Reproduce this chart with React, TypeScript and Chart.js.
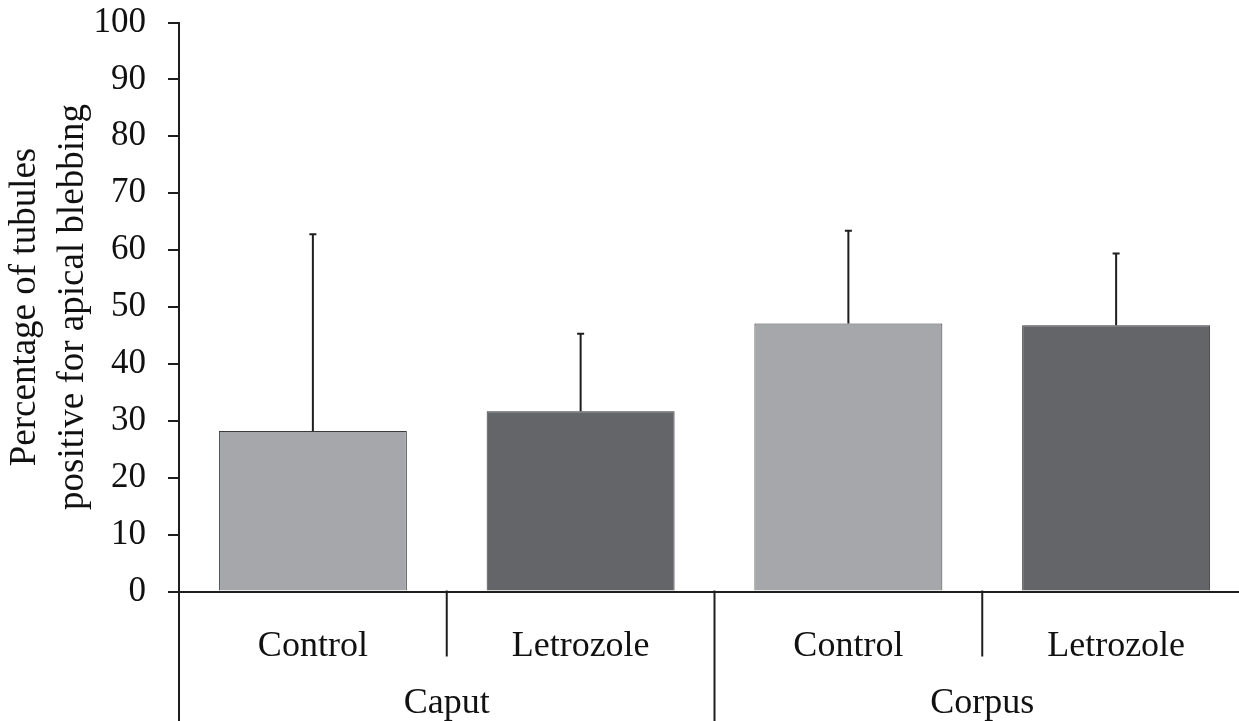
import { useEffect, useRef } from "react";
import { Chart, ChartConfiguration, Plugin, registerables } from "chart.js";

Chart.register(...registerables);

// values
const subgroups = ["Control", "Letrozole", "Control", "Letrozole"];
const groups = ["Caput", "Corpus"];
const means = [28.2, 31.7, 47.1, 46.8];
const sds = [34.6, 13.6, 16.3, 12.6];
const barColors = ["#a6a7ab", "#646568", "#a6a7ab", "#646568"];
const yTitle = ["Percentage of tubules", "positive for apical blebbing"];

const INK = "#1e1e1e";
const FONT = "'Liberation Serif', 'Times New Roman', serif";

const errorBars: Plugin<"bar"> = {
  id: "errorBars",
  afterDatasetsDraw(chart) {
    const { ctx } = chart;
    const y = chart.scales.y;
    const meta = chart.getDatasetMeta(0);
    ctx.save();
    ctx.strokeStyle = INK;
    ctx.lineWidth = 2;
    meta.data.forEach((bar: any, i) => {
      const top = y.getPixelForValue(means[i] + sds[i]);
      ctx.beginPath();
      ctx.moveTo(bar.x, bar.y);
      ctx.lineTo(bar.x, top);
      ctx.moveTo(bar.x - 3.5, top);
      ctx.lineTo(bar.x + 3.5, top);
      ctx.stroke();
    });
    ctx.restore();
  },
};

const groupAxis: Plugin<"bar"> = {
  id: "groupAxis",
  afterDraw(chart) {
    const { ctx, chartArea } = chart;
    const x = chart.scales.x;
    const bottom = chartArea.bottom;
    const half = (x.getPixelForValue(1) - x.getPixelForValue(0)) / 2;
    const perGroup = subgroups.length / groups.length;

    ctx.save();
    ctx.strokeStyle = INK;
    ctx.lineWidth = 2;
    for (let i = 0; i <= subgroups.length; i++) {
      const px = i < subgroups.length ? x.getPixelForValue(i) - half : x.getPixelForValue(i - 1) + half;
      const groupEdge = i % perGroup === 0;
      ctx.beginPath();
      ctx.moveTo(px, bottom - 1);
      ctx.lineTo(px, groupEdge ? chart.height : bottom + 65);
      ctx.stroke();
    }

    ctx.fillStyle = "#111";
    ctx.textAlign = "center";
    ctx.textBaseline = "alphabetic";
    ctx.font = `36px ${FONT}`;
    subgroups.forEach((label, i) => {
      ctx.fillText(label, x.getPixelForValue(i), bottom + 64);
    });
    groups.forEach((label, g) => {
      const first = x.getPixelForValue(g * perGroup);
      const last = x.getPixelForValue(g * perGroup + perGroup - 1);
      ctx.fillText(label, (first + last) / 2, bottom + 121);
    });
    ctx.restore();
  },
};

export default function App() {
  const canvasRef = useRef<HTMLCanvasElement>(null);

  useEffect(() => {
    if (!canvasRef.current) return;

    const config: ChartConfiguration<"bar"> = {
      type: "bar",
      data: {
        labels: subgroups,
        datasets: [
          {
            data: means,
            backgroundColor: barColors,
            borderColor: "#3a3a3a",
            borderWidth: 1,
            categoryPercentage: 1,
            barPercentage: 0.702,
          },
        ],
      },
      options: {
        animation: false,
        responsive: true,
        maintainAspectRatio: false,
        layout: { padding: { top: 22.5, left: 0, right: 0, bottom: 0 } },
        plugins: {
          legend: { display: false },
          tooltip: { enabled: false },
        },
        scales: {
          x: {
            offset: true,
            grid: { display: false },
            border: { display: true, color: INK, width: 2 },
            ticks: { display: false },
            afterFit: (scale) => {
              scale.height = 129.5;
            },
          },
          y: {
            min: 0,
            max: 100,
            ticks: {
              stepSize: 10,
              padding: 22,
              color: "#111",
              font: { family: FONT, size: 35 },
            },
            grid: {
              drawOnChartArea: false,
              drawTicks: true,
              tickLength: 11,
              color: INK,
              lineWidth: 2,
            },
            border: { display: true, color: INK, width: 2 },
            title: {
              display: true,
              text: yTitle,
              color: "#111",
              font: { family: FONT, size: 37, lineHeight: 1.32 },
              padding: { top: 0.5, bottom: 0 },
            },
            afterFit: (scale: any) => {
              scale.width = 179;
              scale.paddingTop = 0;
              scale.paddingBottom = 0;
            },
          },
        },
      },
      plugins: [errorBars, groupAxis],
    };

    const chart = new Chart(canvasRef.current, config);
    return () => chart.destroy();
  }, []);

  return (
    <div style={{ position: "fixed", left: 0, top: 0, width: 1239, height: 721, overflow: "hidden", background: "#fff" }}>
      <div style={{ width: 1250, height: 721 }}>
        <canvas ref={canvasRef} />
      </div>
    </div>
  );
}
